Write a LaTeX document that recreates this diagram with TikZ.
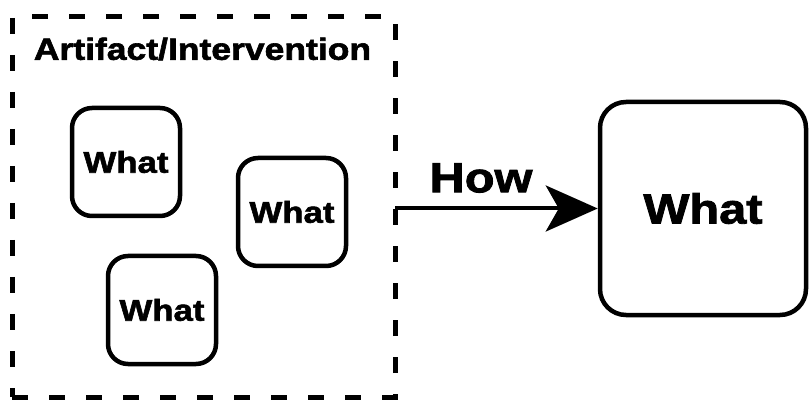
\documentclass[tikz,border=0pt]{standalone}
\usepackage{fontspec}
\setmainfont{Liberation Sans}[FakeStretch=1.16, BoldFeatures={FakeBold=2}]
\usetikzlibrary{arrows.meta}
\begin{document}
\begin{tikzpicture}[x=1pt, y=-1pt,
  container/.style={draw, line width=5pt, dash pattern=on 16pt off 21pt,
    minimum width=383pt, minimum height=380pt, inner sep=0pt, outer sep=0pt},
  titletext/.style={font=\bfseries\fontsize{30.6}{31}\selectfont, inner sep=0pt},
  whatbox/.style={draw, line width=4.5pt, rounded corners=20pt,
    minimum width=108pt, minimum height=108pt, inner sep=0pt,
    font=\bfseries\fontsize{30}{30}\selectfont},
  bigbox/.style={draw, line width=4.5pt, rounded corners=26pt,
    minimum width=206pt, minimum height=213pt, inner sep=0pt,
    font=\bfseries\fontsize{42}{42}\selectfont},
  flowlabel/.style={font=\bfseries\fontsize{42}{42}\selectfont, inner sep=0pt},
  flow/.style={line width=4pt, -{Stealth[length=52pt, width=46pt, inset=13pt]}}
]
\useasboundingbox (0,0) rectangle (811,403);

% dashed container with its caption
\node[container] (art) at (203.5,207) {};
\node[titletext] (title) at (202.5,49) {Artifact/Intervention};

% the three inner items
\node[whatbox] (w1) at (126,162) {What};
\node[whatbox] (w2) at (292,212) {What};
\node[whatbox] (w3) at (162,310) {What};

% outcome box
\node[bigbox] (out) at (703,208.5) {What};

% connector from container to outcome
\coordinate (start) at (art.east |- out.west);
\draw[flow] (start) -- (out.west);
\node[flowlabel] (how) at (481,178) {How};
\end{tikzpicture}
\end{document}
